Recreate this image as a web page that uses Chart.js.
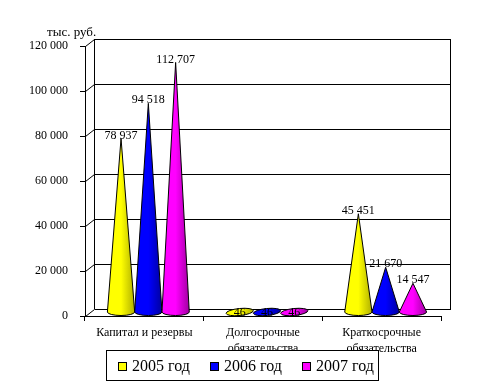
<!DOCTYPE html>
<html>
<head>
<meta charset="utf-8">
<script src="https://cdn.jsdelivr.net/npm/chart.js@4"></script>
<style>
  html, body { margin: 0; background: #fff; }
  canvas { display: block; }
</style>
</head>
<body>
<canvas id="chart" width="489" height="392"></canvas>
<script>
const categories = [["Капитал и резервы"], ["Долгосрочные", "обязательства"], ["Краткосрочные", "обязательства"]];
const years = ["2005 год", "2006 год", "2007 год"];
const values2005 = [78937, 46, 45451];
const values2006 = [94518, 46, 21670];
const values2007 = [112707, 46, 14547];
const colors = ["#ffff00", "#0000ff", "#ff00ff"];
const darkColors = ["#b0b000", "#0000a0", "#a000a0"];
const unitLabel = "тыс. руб.";

const FONT = "'Liberation Serif', 'Times New Roman', serif";
const depthX = 9;
const depthY = 7;

const fmt = (v) => String(v).replace(/\B(?=(\d{3})+$)/g, "\u00a0");

// back wall of the fake 3d box
const wallPlugin = {
  id: "wall",
  beforeDatasetsDraw(chart) {
    const { ctx, scales, chartArea } = chart;
    const y = scales.y;
    const wx = chartArea.left + depthX + 0.5;
    const wr = chartArea.right + depthX + 0.5;
    ctx.save();
    ctx.strokeStyle = "#000";
    ctx.lineWidth = 1;
    ctx.beginPath();
    y.ticks.forEach((t) => {
      const py = Math.round(y.getPixelForValue(t.value)) + 0.5;
      ctx.moveTo(chartArea.left + 0.5, py);
      ctx.lineTo(wx, py - depthY);
      ctx.lineTo(wr, py - depthY);
    });
    ctx.moveTo(wx, chartArea.top - depthY);
    ctx.lineTo(wx, chartArea.bottom - depthY);
    ctx.moveTo(wr, chartArea.top - depthY);
    ctx.lineTo(wr, chartArea.bottom - depthY + 1);
    ctx.stroke();
    ctx.restore();
  },
};

// bars are kept invisible, cones are drawn on their geometry
const conePlugin = {
  id: "cones",
  afterDatasetsDraw(chart) {
    const { ctx } = chart;
    ctx.save();
    chart.data.datasets.forEach((ds, i) => {
      chart.getDatasetMeta(i).data.forEach((bar) => {
        const cx = bar.x + 4;
        const half = bar.width / 2;
        const baseY = bar.base - 3.5;
        const g = ctx.createLinearGradient(cx - half, 0, cx + half, 0);
        g.addColorStop(0, colors[i]);
        g.addColorStop(0.5, colors[i]);
        g.addColorStop(1, darkColors[i]);
        ctx.fillStyle = g;
        ctx.strokeStyle = "#000";
        ctx.lineWidth = 1;
        ctx.beginPath();
        if (bar.y > baseY - 3) {
          // nearly zero value, only the flat base is left
          ctx.ellipse(cx, baseY, half, 3.5, -0.1, 0, Math.PI * 2);
        } else {
          ctx.moveTo(cx, bar.y);
          ctx.lineTo(cx - half, baseY);
          ctx.ellipse(cx, baseY, half, 3.5, 0, Math.PI, 0, true);
          ctx.closePath();
        }
        ctx.fill();
        ctx.stroke();
      });
    });
    // value labels on top of cones
    ctx.fillStyle = "#000";
    ctx.font = "12px " + FONT;
    ctx.textAlign = "center";
    ctx.textBaseline = "middle";
    chart.data.datasets.forEach((ds, i) => {
      chart.getDatasetMeta(i).data.forEach((bar, j) => {
        ctx.fillText(fmt(ds.data[j]), bar.x + 4, bar.y - 3);
      });
    });
    ctx.restore();
  },
};

// legend box sits over the axis labels, unit caption above the axis
const legendPlugin = {
  id: "boxLegend",
  afterDraw(chart) {
    const { ctx } = chart;
    ctx.save();
    ctx.fillStyle = "#fff";
    ctx.fillRect(107, 351, 272, 30);
    ctx.strokeStyle = "#000";
    ctx.lineWidth = 1;
    ctx.strokeRect(106.5, 350.5, 272, 30);
    ctx.font = "16px " + FONT;
    ctx.textBaseline = "middle";
    ctx.textAlign = "left";
    chart.data.datasets.forEach((ds, i) => {
      const x = 118 + i * 92;
      ctx.fillStyle = colors[i];
      ctx.fillRect(x, 362, 9, 9);
      ctx.strokeRect(x + 0.5, 362.5, 8, 8);
      ctx.fillStyle = "#000";
      ctx.fillText(ds.label, x + 14, 367);
    });
    ctx.font = "13px " + FONT;
    ctx.fillText(unitLabel, 47, 33);
    ctx.restore();
  },
};

new Chart(document.getElementById("chart"), {
  type: "bar",
  data: {
    labels: categories,
    datasets: [
      { label: years[0], data: values2005, backgroundColor: "transparent" },
      { label: years[1], data: values2006, backgroundColor: "transparent" },
      { label: years[2], data: values2007, backgroundColor: "transparent" },
    ],
  },
  options: {
    responsive: false,
    animation: false,
    layout: { padding: { top: 46, right: 48, bottom: 0, left: 0 } },
    categoryPercentage: 0.69,
    barPercentage: 1,
    plugins: { legend: { display: false }, tooltip: { enabled: false } },
    scales: {
      x: {
        afterFit(axis) { axis.height = 76; },
        border: { color: "#000" },
        grid: { color: "#000", drawOnChartArea: false, tickLength: 5 },
        ticks: { color: "#000", padding: 4, maxRotation: 0, autoSkip: false, font: { family: FONT, size: 12, lineHeight: "16px" } },
      },
      y: {
        min: 0,
        max: 120000,
        afterFit(axis) { axis.width = 85; },
        border: { color: "#000" },
        grid: { color: "#000", drawOnChartArea: false, tickLength: 5 },
        ticks: { color: "#000", stepSize: 20000, padding: 12, font: { family: FONT, size: 12 }, callback: (v) => fmt(v) },
      },
    },
  },
  plugins: [wallPlugin, conePlugin, legendPlugin],
});
</script>
</body>
</html>
